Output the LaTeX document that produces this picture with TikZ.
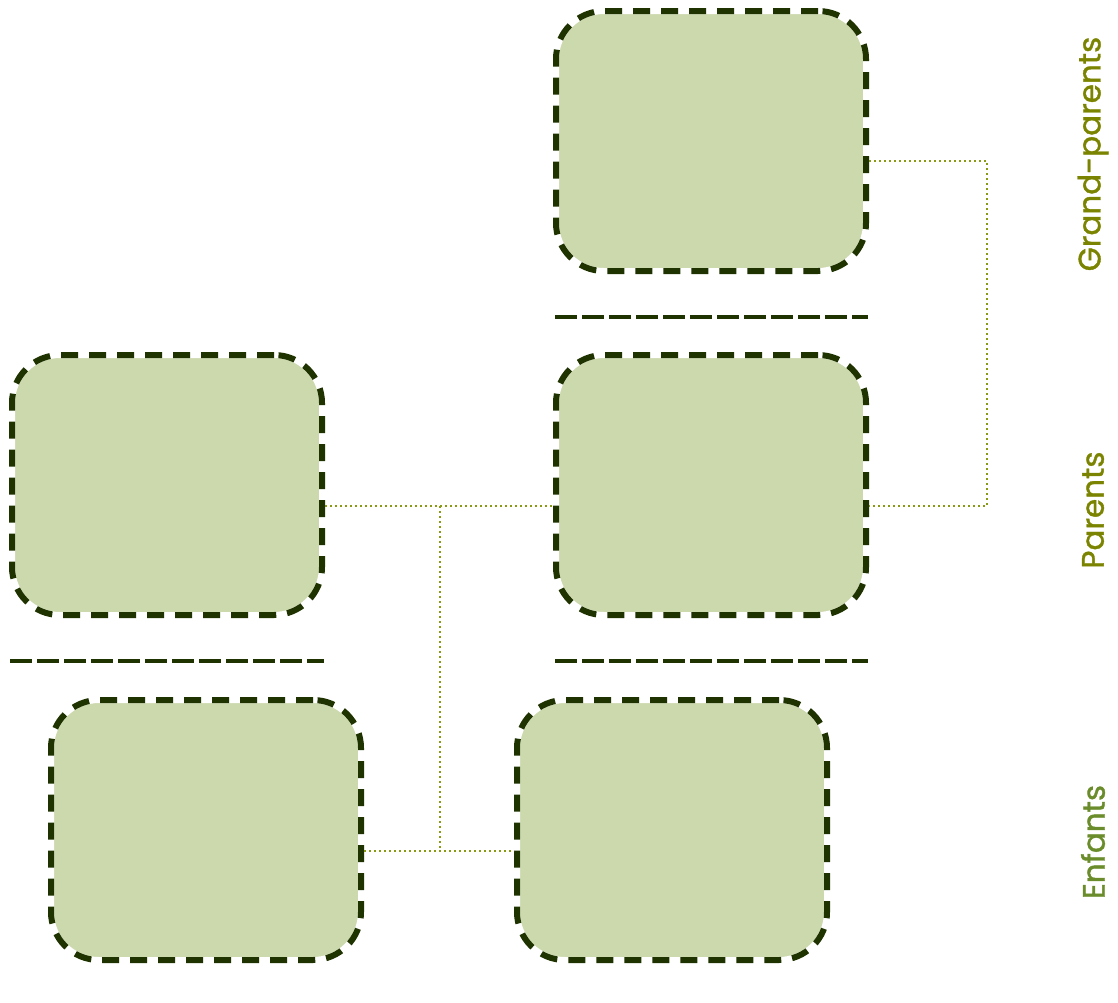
\documentclass[tikz,border=0pt]{standalone}
\usepackage{fontspec}
\setmainfont{Poppins}
\newfontfamily\genfont{Poppins}[FakeBold=1.2]
\definecolor{boxfill}{HTML}{CCD9AD}
\definecolor{boxline}{HTML}{1F3300}
\definecolor{olivetxt}{HTML}{7B8400}
\definecolor{greentxt}{HTML}{6A8C2A}
\definecolor{dotline}{HTML}{8A9A12}
\begin{document}
\begin{tikzpicture}[x=1pt,y=-1pt,
  person/.style={rectangle, rounded corners=48pt, minimum width=310pt, minimum height=260pt,
    fill=boxfill, draw=white, line width=6pt, inner sep=0pt,
    postaction={draw=boxline, line width=6pt, dash pattern=on 17pt off 11pt}},
  sep/.style={draw=boxline, line width=4pt, dash pattern=on 22pt off 5pt},
  link/.style={draw=dotline, line width=1.6pt, dash pattern=on 1.6pt off 3.4pt},
  gen/.style={rotate=90, font=\genfont\fontsize{31}{36}\selectfont, inner sep=0pt}]
\useasboundingbox (0,0) rectangle (1118,1002);
\node[person] (gp) at (711,141) {};
\node[person] (pr) at (711,485) {};
\node[person] (pl) at (167,485) {};
\node[person] (el) at (206,830) {};
\node[person] (er) at (672,830) {};
% separators
\coordinate (s1a) at (555,317); \coordinate (s1b) at (868,317);
\coordinate (s2a) at (10,661); \coordinate (s2b) at (324,661);
\coordinate (s3a) at (555,661); \coordinate (s3b) at (868,661);
\draw[sep] (s1a) -- (s1b);
\draw[sep] (s2a) -- (s2b);
\draw[sep] (s3a) -- (s3b);
% connectors
\coordinate (gpr) at (987,161);
\coordinate (prr) at (987,506);
\draw[link] (gp.east |- gpr) -- (gpr) -- (prr) -- (pr.east |- prr);
\coordinate (jt) at (440,506);
\coordinate (jb) at (440,851);
\draw[link] (pl.east |- jt) -- (pr.west |- jt);
\draw[link] (jt) -- (jb);
\draw[link] (el.east |- jb) -- (er.west |- jb);
% labels
\node[gen, text=olivetxt] (lgp) at (1093,154) {Grand-parents};
\node[gen, text=olivetxt] (lp) at (1093,510) {Parents};
\node[gen, text=greentxt] (le) at (1093,842) {Enfants};
\end{tikzpicture}
\end{document}
